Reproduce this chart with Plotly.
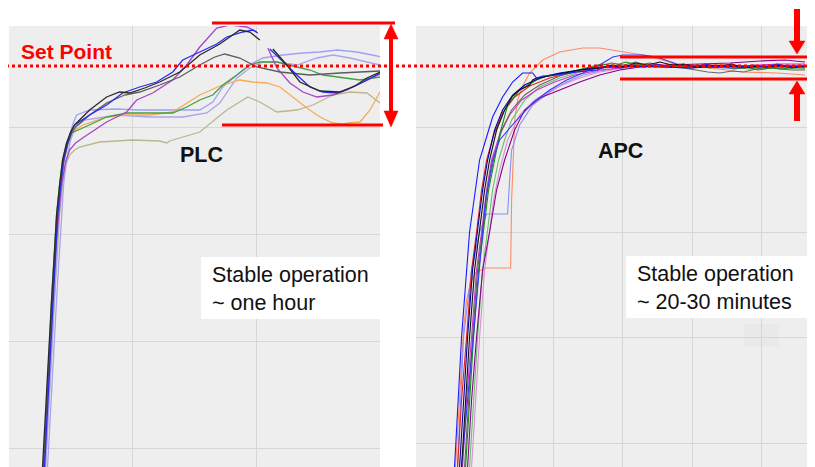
import plotly.graph_objects as go

# ---------------- PLC panel data (arbitrary units) ----------------
plc_black_x = [34,36,38,40,43,46,48,51,54,58,62,66,81,98,111,121,136,151,171,191,211,231,241,251,None,264,278,291,311,331,346,358,371]
plc_black_y = [-19,18,58,103,148,198,233,263,288,305,316,323,338,351,356,355,360,366,376,393,404,418,416,408,None,399,383,366,357,356,362,370,376]
plc_gray_x = [35,37,39,41,44,47,49,52,55,59,63,67,81,98,116,131,151,171,191,206,216,231,248,271,301,331,371]
plc_gray_y = [-19,18,58,103,148,198,233,263,286,303,315,321,333,345,353,356,363,371,383,391,394,390,381,376,373,375,377]
plc_blue_x = [36,38,40,42,45,47,49,52,55,59,63,66,81,98,114,131,148,164,174,191,208,218,234,244,249,None,261,274,288,301,314,328,341,354,368,371]
plc_blue_y = [-19,18,58,103,148,198,233,263,288,305,317,323,333,343,355,361,366,376,388,396,404,411,416,418,415,None,399,386,373,361,356,355,360,366,374,375]
plc_purple_x = [35,37,39,41,44,47,50,53,57,61,67,74,98,118,128,144,164,178,191,204,208,221,238,248,None,259,268,281,294,308,324,338,354,368,371]
plc_purple_y = [-19,18,58,103,148,198,233,263,286,298,305,310,326,336,348,355,368,383,401,415,420,423,421,416,None,400,380,365,356,351,353,358,366,373,374]
plc_lav1_x = [37,39,41,43,46,48,50,53,56,60,64,68,81,108,131,158,174,191,204,214,234,244,254,274,294,311,328,348,368,371]
plc_lav1_y = [-19,18,58,103,148,198,233,263,290,308,323,333,338,339,338,338,338,338,346,361,378,385,390,393,395,396,398,396,392,391]
plc_lav2_x = [39,41,43,45,48,51,53,55,58,62,67,76,108,141,174,198,211,228,241,254,268,288,308,324,341,358,371]
plc_lav2_y = [-19,18,58,103,148,198,233,263,288,308,321,328,333,331,331,335,345,370,380,386,386,383,390,393,390,386,383]
plc_orange_x = [35,37,39,41,44,47,49,52,55,59,64,74,98,118,141,164,178,191,211,231,244,258,271,284,298,311,324,334,339,351,361,371]
plc_orange_y = [-19,18,58,103,148,198,233,263,288,306,316,323,331,333,333,336,345,353,362,368,366,365,361,351,340,331,325,324,325,326,338,356]
plc_green_x = [35,37,39,41,43,46,48,51,54,58,63,74,98,118,141,164,178,191,204,214,228,241,251,268,288,301,314,334,351,371]
plc_green_y = [-19,18,58,103,148,198,233,263,288,305,315,320,331,335,335,335,341,348,353,363,373,383,386,386,381,378,373,370,368,371]
plc_olive_x = [37,39,41,43,46,49,51,54,57,61,66,71,91,124,151,158,161,191,218,239,251,268,288,304,324,341,358,371]
plc_olive_y = [-19,18,58,103,148,198,233,263,283,293,298,301,306,308,307,305,307,316,338,351,346,336,338,343,353,356,355,345]

# ---------------- APC panel data ----------------
apc_blue_x = [39,46,54,64,71,77,87,97,107,117,121,127,141,161,181,193,205,217,229,241,253,265,277,289,301,313,325,337,349,361,373,389]
apc_blue_y = [-24,106,211,283,306,326,346,361,370,370,365,367,368,371,373,377,375,378,376,379,376,378,375,379,376,378,375,378,376,379,376,377]
apc_coral_x = [40,44,48,51,55,60,69,95,96,98,99,102,106,114,127,144,167,184,207,227,247,261,294,327,361,389]
apc_coral_y = [-24,43,113,143,160,170,175,175,243,293,323,343,355,370,383,391,395,395,391,388,383,378,375,371,370,368]
apc_lav_x = [42,48,56,64,71,92,94,96,104,117,134,151,167,184,204,234,264,294,324,354,389]
apc_lav_y = [-24,106,173,211,229,229,263,293,318,338,351,361,368,372,375,376,377,376,377,377,378]
apc_mblue_x = [46,52,58,64,70,77,84,101,117,134,151,167,184,197,207,227,241,261,284,314,344,389]
apc_mblue_y = [-24,43,113,183,243,283,303,323,340,353,363,370,378,386,388,388,386,379,376,375,376,376]
apc_black_x = [46,50,54,59,64,69,74,81,89,97,104,111,114,117,121,134,149,164,184,196,208,220,232,244,256,268,280,292,304,316,328,340,352,364,376,389]
apc_black_y = [-24,43,106,173,211,253,283,313,333,347,353,356,358,363,365,367,370,373,375,378,376,380,378,381,378,379,376,378,377,379,375,377,376,378,375,377]
apc_gray_x = [49,53,57,62,67,72,78,86,96,109,124,144,164,184,196,208,220,232,244,256,268,280,292,304,316,328,340,352,364,376,389]
apc_gray_y = [-24,43,106,173,211,253,283,313,333,348,358,367,373,377,380,378,381,377,378,376,375,373,371,370,372,371,374,376,374,373,373]
apc_green_x = [50,54,58,63,68,73,79,84,92,104,121,134,154,174,186,198,210,222,234,246,258,270,282,294,306,318,330,342,354,366,378,389]
apc_green_y = [-24,43,106,173,211,253,283,308,338,353,363,368,371,376,379,377,381,378,380,377,379,376,378,375,377,374,376,373,375,374,376,375]
apc_lgreen_x = [54,58,62,67,72,77,83,89,96,109,124,144,164,184,214,244,274,304,334,364,389]
apc_lgreen_y = [-24,43,106,173,211,253,283,303,323,343,356,365,371,375,378,377,375,376,374,375,374]
apc_purple_x = [52,56,61,67,74,81,89,99,109,124,144,164,184,204,224,254,284,314,344,369,389]
apc_purple_y = [-24,43,106,173,211,253,283,313,333,345,353,361,368,373,376,378,379,380,382,383,381]
apc_violet_x = [56,60,64,69,74,78,84,92,104,119,139,164,184,214,244,284,324,364,389]
apc_violet_y = [-24,43,106,173,211,243,273,303,328,343,355,365,371,376,377,376,375,376,375]
apc_magenta_x = [47,51,56,61,66,71,76,84,94,106,121,139,159,184,214,244,284,324,364,389]
apc_magenta_y = [-24,43,106,173,211,253,283,308,328,343,353,361,368,373,376,378,377,377,379,379]
apc_dblue_x = [44,48,52,57,62,67,72,79,87,97,109,124,144,164,184,214,244,274,304,334,364,389]
apc_dblue_y = [-24,43,106,173,211,253,283,313,333,348,358,365,370,373,376,377,376,375,377,376,377,377]
apc_red_x = [42,46,51,56,61,66,71,78,87,99,114,134,159,184,224,264,304,344,389]
apc_red_y = [-24,43,106,173,211,253,283,308,330,346,357,365,371,375,377,377,378,377,376]

plc_series = [
    (plc_olive_x, plc_olive_y, "#bab68e"),
    (plc_lav2_x, plc_lav2_y, "#aaa4ee"),
    (plc_lav1_x, plc_lav1_y, "#a0a0f6"),
    (plc_orange_x, plc_orange_y, "#f8aa55"),
    (plc_green_x, plc_green_y, "#3ea23e"),
    (plc_purple_x, plc_purple_y, "#a444c8"),
    (plc_gray_x, plc_gray_y, "#5c5c5c"),
    (plc_blue_x, plc_blue_y, "#2a2aee"),
    (plc_black_x, plc_black_y, "#2a2a2a"),
]
apc_series = [
    (apc_coral_x, apc_coral_y, "#ff8a66"),
    (apc_lav_x, apc_lav_y, "#8c8cf4"),
    (apc_violet_x, apc_violet_y, "#d890d8"),
    (apc_lgreen_x, apc_lgreen_y, "#66c066"),
    (apc_purple_x, apc_purple_y, "#880088"),
    (apc_magenta_x, apc_magenta_y, "#cc33cc"),
    (apc_red_x, apc_red_y, "#dd2222"),
    (apc_gray_x, apc_gray_y, "#666666"),
    (apc_green_x, apc_green_y, "#1a8a1a"),
    (apc_mblue_x, apc_mblue_y, "#3a3aff"),
    (apc_dblue_x, apc_dblue_y, "#0000aa"),
    (apc_black_x, apc_black_y, "#111111"),
    (apc_blue_x, apc_blue_y, "#1a1aff"),
]

# The page body has an 8px margin, so the figure is sized to fill the rest of the window
OFF = 8
W, H = 815 - OFF, 467 - OFF
BG = "#eeeeee"
GRID = "#d6d6d6"
RED = "#ff0000"
FONT = "Liberation Sans, Arial, sans-serif"

fig = go.Figure()
for xs, ys, c in plc_series:
    fig.add_trace(go.Scatter(x=xs, y=ys, mode="lines", line=dict(color=c, width=1.3),
                             xaxis="x", yaxis="y", hoverinfo="skip", showlegend=False))
for xs, ys, c in apc_series:
    fig.add_trace(go.Scatter(x=xs, y=ys, mode="lines", line=dict(color=c, width=1.1),
                             xaxis="x2", yaxis="y2", hoverinfo="skip", showlegend=False))


def px(x):
    return (x - OFF) / W


def py(y):
    return 1 - (y - OFF) / H


shapes = []
# plot backgrounds
for x0, x1 in [(9, 380), (416, 807)]:
    shapes.append(dict(type="rect", xref="paper", yref="paper", x0=px(x0), x1=px(x1),
                       y0=0, y1=py(26), fillcolor=BG, line=dict(width=0), layer="below"))

# gaps in gridlines (background patches above grid, below data)
def patch(x0, y0, x1, y1, color=BG):
    shapes.append(dict(type="rect", xref="paper", yref="paper", x0=px(x0), x1=px(x1),
                       y0=py(y1), y1=py(y0), fillcolor=color, line=dict(width=0), layer="between"))

patch(12, 100, 46, 360)
patch(12, 440, 33, 456)
patch(312, 26, 348, 467)
patch(416, 26, 452, 467)
patch(452, 26, 807, 47)
patch(755, 47, 770, 110)
for gy in [127, 232, 443]:
    patch(743, gy - 11, 780, gy + 11)
patch(744, 324, 779, 347, "#e9e9e9")

# set point dotted line
shapes.append(dict(type="line", xref="paper", yref="paper", x0=px(0), x1=px(815), y0=py(66), y1=py(66),
                   line=dict(color=RED, width=3, dash="dot"), layer="above"))

# red bracket lines
def hline(x0, x1, y, w=3):
    shapes.append(dict(type="line", xref="paper", yref="paper", x0=px(x0), x1=px(x1),
                       y0=py(y), y1=py(y), line=dict(color=RED, width=w), layer="above"))

def vline(x, y0, y1, w=4):
    shapes.append(dict(type="line", xref="paper", yref="paper", x0=px(x), x1=px(x),
                       y0=py(y0), y1=py(y1), line=dict(color=RED, width=w), layer="above"))

def tri(tipx, tipy, basey, half):
    path = "M {} {} L {} {} L {} {} Z".format(px(tipx), py(tipy), px(tipx - half), py(basey),
                                               px(tipx + half), py(basey))
    shapes.append(dict(type="path", xref="paper", yref="paper", path=path,
                       fillcolor=RED, line=dict(color=RED, width=0.5), layer="above"))

hline(212, 395, 23)
hline(222, 383, 125)
vline(391, 34, 116, 4)
tri(391, 24, 39, 7)
tri(391, 127, 111, 7)

hline(620, 811, 57)
hline(620, 811, 79)
vline(797, 9, 42, 6)
tri(797, 54, 41, 8)
vline(797, 121, 93, 6)
tri(797, 81, 94, 8)

# white boxes
for x0, x1, y0, y1 in [(201, 380, 257, 319), (626, 807, 256, 318)]:
    shapes.append(dict(type="rect", xref="paper", yref="paper", x0=px(x0), x1=px(x1),
                       y0=py(y1), y1=py(y0), fillcolor="white", line=dict(width=0), layer="above"))

annotations = [
    dict(text="<b>Set Point</b>", x=px(19), y=py(51), xanchor="left", yanchor="middle",
         font=dict(family=FONT, size=21, color=RED)),
    dict(text="<b>PLC</b>", x=px(201), y=py(155), xanchor="center", yanchor="middle",
         font=dict(family=FONT, size=21.5, color="#111111")),
    dict(text="<b>APC</b>", x=px(620), y=py(151), xanchor="center", yanchor="middle",
         font=dict(family=FONT, size=21.5, color="#111111")),
    dict(text="Stable operation<br>~ one hour", x=px(210), y=py(289), xanchor="left",
         yanchor="middle", align="left", font=dict(family=FONT, size=21.5, color="#111111")),
    dict(text="Stable operation<br>~ 20-30 minutes", x=px(635), y=py(288), xanchor="left",
         yanchor="middle", align="left", font=dict(family=FONT, size=21.5, color="#111111")),
]
for a in annotations:
    a.update(xref="paper", yref="paper", showarrow=False)

axis_common = dict(showticklabels=False, ticks="", zeroline=False, showline=False,
                   showgrid=True, gridcolor=GRID, gridwidth=1.3)
fig.update_layout(
    width=W, height=H, margin=dict(l=0, r=0, t=0, b=0),
    paper_bgcolor="white", plot_bgcolor="rgba(0,0,0,0)",
    xaxis=dict(domain=[px(9), px(380)], range=[0.5, 371], tick0=124, dtick=124, **axis_common),
    yaxis=dict(domain=[0, py(26)], range=[-19, 422], tick0=0, dtick=107, **axis_common),
    xaxis2=dict(domain=[px(416), px(807)], range=[0.5, 391], tick0=68, dtick=69.5,
                anchor="y2", **axis_common),
    yaxis2=dict(domain=[0, py(26)], range=[-24, 417], tick0=0, dtick=105.3,
                anchor="x2", **axis_common),
    shapes=shapes, annotations=annotations, showlegend=False,
)

fig.write_html("out.html")
